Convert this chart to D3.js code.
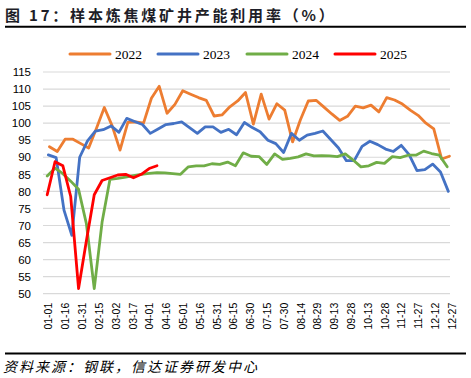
<!DOCTYPE html>
<html>
<head>
<meta charset="utf-8">
<script src="https://cdn.jsdelivr.net/npm/d3@7"></script>
<style>
  html, body { margin: 0; padding: 0; background: #fff; }
  svg { display: block; }
</style>
</head>
<body>
<svg id="chart" width="471" height="378"></svg>
<script>
// ---------- data ----------
const seriesNames = ["2022", "2023", "2024", "2025"];
const seriesColors = ["#ED7D31", "#4472C4", "#70AD47", "#FF0000"];
// first observation day (days after 01-01) for each year, weekly data
const startDays = [1, 0, -1, -1];
const stepDays = 7;

const values2022 = [93.1, 91.7, 95.3, 95.3, 94.0, 92.7, 98.5, 104.6, 99.2, 92.1,
  100.2, 100.4, 100.0, 107.3, 110.8, 102.9, 105.5, 109.5, 108.5, 107.5,
  106.7, 102.1, 102.4, 104.8, 106.5, 109.0, 99.7, 108.5, 101.2, 105.7,
  103.8, 94.5, 101.0, 106.5, 106.7, 104.7, 102.7, 100.8, 102.0, 105.0,
  104.5, 105.3, 103.3, 107.5, 106.8, 105.6, 103.8, 102.3, 100.0, 98.3,
  89.5, 90.3];
const values2023 = [90.7, 89.9, 74.5, 67.1, 90.0, 94.8, 97.7, 98.1, 99.2, 97.3,
  101.4, 100.5, 99.6, 97.0, 98.3, 99.6, 99.9, 100.4, 98.7, 97.0,
  98.9, 98.9, 97.3, 98.2, 96.6, 100.2, 98.7, 97.5, 95.0, 94.0,
  91.4, 97.0, 95.0, 96.5, 97.0, 97.7, 95.2, 92.7, 89.0, 89.0,
  93.2, 94.7, 93.7, 92.4, 91.7, 93.5, 90.8, 86.1, 86.4, 88.0,
  85.7, 80.0];
const values2024 = [84.5, 86.8, 85.2, 83.0, 80.6, 70.5, 51.5, 71.0, 83.5, 83.8,
  84.2, 84.6, 85.0, 85.3, 85.5, 85.4, 85.2, 85.0, 87.2, 87.5,
  87.5, 88.1, 87.9, 88.6, 87.5, 91.3, 90.3, 90.2, 87.9, 91.0,
  89.4, 89.7, 90.1, 91.0, 90.4, 90.5, 90.4, 90.2, 91.0, 89.2,
  87.2, 87.5, 88.5, 88.2, 90.2, 89.9, 90.6, 90.6, 91.8, 91.1,
  90.6, 87.2];
const values2025 = [79.0, 88.7, 87.5, 78.5, 51.5, 65.5, 79.0, 83.2, 84.0, 84.8,
  85.0, 84.0, 85.0, 86.7, 87.5];

const xTickLabels = ["01-01", "01-16", "01-31", "02-15", "03-02", "03-17", "04-01",
  "04-16", "05-01", "05-16", "05-31", "06-15", "06-30", "07-15", "07-30", "08-14",
  "08-29", "09-13", "09-28", "10-13", "10-28", "11-12", "11-27", "12-12", "12-27"];
const xTickDays = [0, 15, 30, 45, 60, 75, 90, 105, 120, 135, 150, 165, 180, 195,
  210, 225, 240, 255, 270, 285, 300, 315, 330, 345, 360];
const yTicks = [50, 55, 60, 65, 70, 75, 80, 85, 90, 95, 100, 105, 110, 115];

const titleText = "图 17：样本炼焦煤矿井产能利用率（%）";
const sourceText = "资料来源：钢联，信达证券研发中心";

// ---------- drawing ----------
const allValues = [values2022, values2023, values2024, values2025];
const series = seriesNames.map((name, i) => ({
  name, color: seriesColors[i],
  points: allValues[i].map((v, j) => ({ day: startDays[i] + j * stepDays, v }))
}));

const svg = d3.select("#chart");
const plotLeft = 43, plotRight = 450;

const x = d3.scaleLinear().domain([0, 360]).range([48.3, 451.7]);
const y = d3.scaleLinear().domain([50, 115]).range([293.7, 72]);

// title
svg.append("text")
  .attr("x", 5).attr("y", 20.5)
  .attr("font-family", "'Noto Sans CJK SC', sans-serif")
  .attr("font-size", 15).attr("font-weight", "bold")
  .attr("letter-spacing", "2.8px")
  .attr("fill", "#1e1e28")
  .text(titleText);
svg.append("line")
  .attr("x1", 5).attr("x2", 466).attr("y1", 26.8).attr("y2", 26.8)
  .attr("stroke", "#000").attr("stroke-width", 2);

// gridlines
svg.append("g").selectAll("line").data(yTicks).join("line")
  .attr("x1", plotLeft).attr("x2", plotRight)
  .attr("y1", d => y(d)).attr("y2", d => y(d))
  .attr("stroke", "#d9d9d9").attr("stroke-width", 1.2);

// y axis
const yAxis = svg.append("g")
  .attr("transform", `translate(${plotLeft},0)`)
  .call(d3.axisLeft(y).tickValues(yTicks).tickSize(0).tickPadding(12));
yAxis.select(".domain").remove();
yAxis.selectAll("text")
  .attr("font-family", "'Liberation Sans', Arial, sans-serif")
  .attr("font-size", 11.5).attr("fill", "#000");

// x axis
const xAxis = svg.append("g")
  .attr("transform", `translate(0,${y(50)})`)
  .call(d3.axisBottom(x).tickValues(xTickDays)
    .tickFormat((d, i) => xTickLabels[i]).tickSize(0));
xAxis.select(".domain").remove();
xAxis.selectAll("text")
  .attr("font-family", "'Liberation Sans', Arial, sans-serif")
  .attr("font-size", 10.5).attr("fill", "#000")
  .attr("text-anchor", "end")
  .attr("transform", "rotate(-90)")
  .attr("x", -9).attr("y", 0).attr("dy", "0.35em");

// lines
const line = d3.line().x(d => x(d.day)).y(d => y(d.v));
svg.append("g").selectAll("path").data(series).join("path")
  .attr("d", d => line(d.points))
  .attr("fill", "none")
  .attr("stroke", d => d.color)
  .attr("stroke-width", 2.8)
  .attr("stroke-linejoin", "round")
  .attr("stroke-linecap", "round");

// legend
const legendX = [70, 158, 247, 335];
const lg = svg.append("g").selectAll("g").data(series).join("g")
  .attr("transform", (d, i) => `translate(${legendX[i]},54)`);
lg.append("line").attr("x1", 0).attr("x2", 40).attr("y1", 0).attr("y2", 0)
  .attr("stroke", d => d.color).attr("stroke-width", 3)
  .attr("stroke-linecap", "round");
lg.append("text").attr("x", 45).attr("y", 4.8)
  .attr("font-family", "'Liberation Serif', 'Times New Roman', serif")
  .attr("font-size", 13.5).attr("fill", "#000")
  .text(d => d.name);

// footer
svg.append("line")
  .attr("x1", 5).attr("x2", 466).attr("y1", 353.5).attr("y2", 353.5)
  .attr("stroke", "#000").attr("stroke-width", 2);
svg.append("text")
  .attr("x", 3).attr("y", 372)
  .attr("font-family", "'Noto Sans CJK SC', sans-serif")
  .attr("font-size", 14).attr("font-style", "italic")
  .attr("letter-spacing", "2px")
  .attr("fill", "#000")
  .text(sourceText);
</script>
</body>
</html>
